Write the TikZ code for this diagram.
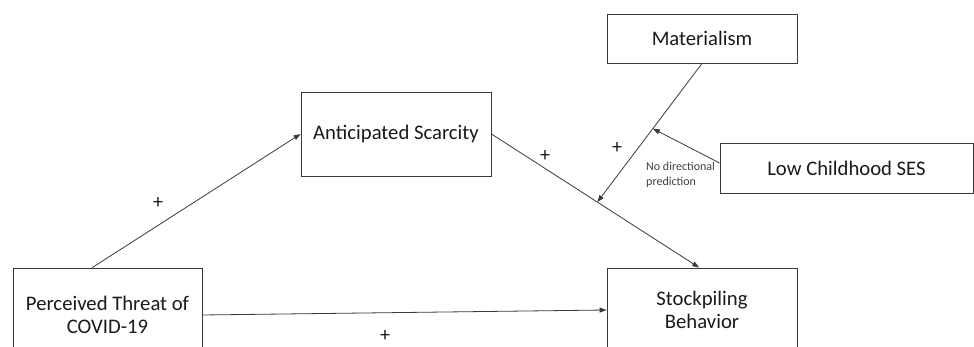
\documentclass[tikz,border=0pt]{standalone}
\usepackage{fontspec}
\setmainfont{Carlito}
\usetikzlibrary{arrows.meta,calc}
\definecolor{linec}{HTML}{3A3A3A}
\definecolor{txt}{HTML}{1A1A1A}
\definecolor{notec}{HTML}{404040}
\begin{document}
\begin{tikzpicture}[x=1pt,y=-1pt,
  box/.style={draw=linec, line width=0.9pt, inner sep=0pt, align=center,
    font=\fontsize{20.7}{23}\selectfont, text=txt},
  conn/.style={draw=linec, line width=0.8pt, -{Triangle[length=7pt,width=5pt]}},
  plain/.style={draw=linec, line width=0.8pt},
  plus/.style={font=\fontsize{20}{20}\selectfont, text=txt, inner sep=0pt},
  note/.style={font=\fontsize{12}{15}\selectfont, align=left, text=notec, inner sep=0pt}]
\useasboundingbox (0,0) rectangle (974,347);
\clip (0,0) rectangle (974,347);
\fill[white] (0,0) rectangle (974,347);
\node[box, minimum width=189pt, minimum height=94pt] (P) at (107.5,315) {Perceived Threat of\\COVID-19};
\node[box, minimum width=190pt, minimum height=84pt] (A) at (396,134) {Anticipated Scarcity};
\node[box, minimum width=190pt, minimum height=84pt] (S) at (702,310) {Stockpiling\\Behavior};
\node[box, minimum width=190pt, minimum height=49pt] (M) at (702,38.5) {Materialism};
\node[box, minimum width=253pt, minimum height=50pt] (L) at (846.5,168) {Low Childhood SES};
\coordinate (Pt) at ($(P.north west)!0.42!(P.north east)$);
\coordinate (St) at ($(S.north west)!0.485!(S.north east)$);
\coordinate (m1) at ($(A.east)!0.51!(St)$);
\coordinate (m2) at ($(M.south)!0.47!(m1)$);
\coordinate (Lw) at ($(L.west)+(0,-5)$);
\draw[conn] (Pt) -- (A.west);
\draw[conn] (A.east) -- (St);
\draw[conn] (P.east) -- (S.west);
\draw[conn] (M.south) -- (m1);
\draw[conn] (Lw) -- (m2);
\node[plus] (p1) at (158,203) {+};
\node[plus] (p2) at (545,156) {+};
\node[plus] (p3) at (617,148) {+};
\node[plus] (p4) at (385,336) {+};
\node[note, anchor=west] (nd) at (646,175) {No directional\\prediction};
\end{tikzpicture}
\end{document}
